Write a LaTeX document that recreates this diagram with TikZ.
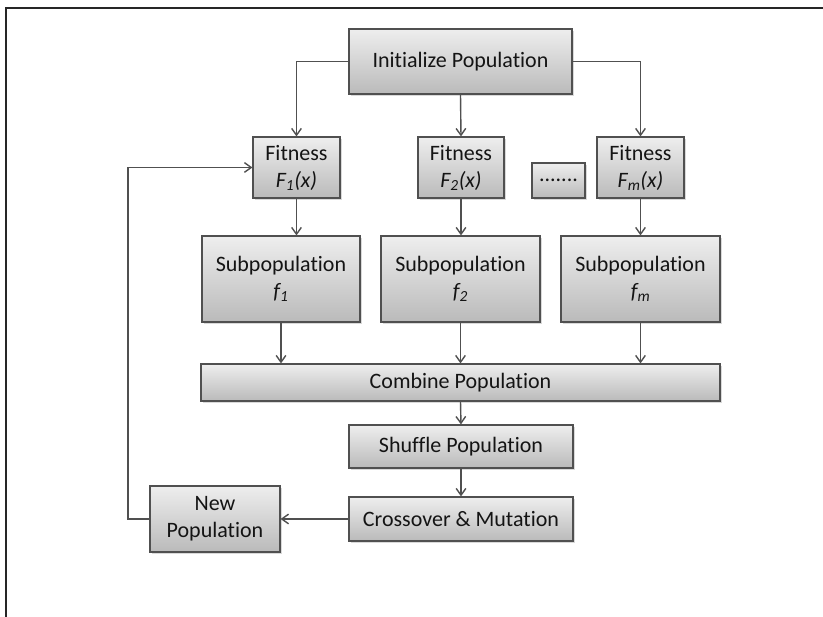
\documentclass[tikz,border=0pt]{standalone}
\usepackage{fontspec}
\setmainfont{Carlito}[Ligatures=NoCommon]
\usepackage{xcolor}
\definecolor{edge}{HTML}{505050}
\definecolor{ink}{HTML}{141414}
\definecolor{topg}{HTML}{EEEEEE}
\definecolor{botg}{HTML}{BABABA}
\usepackage{tikz}
\usetikzlibrary{arrows.meta,shadows}
\tikzset{
  >={Straight Barb[length=2.4mm,width=3.4mm]},
  blk/.style={draw=edge,line width=1.1pt,top color=topg,bottom color=botg,text=ink,align=center,inner sep=0pt,
    font=\fontsize{22}{27}\selectfont,drop shadow={opacity=0.3,shadow xshift=1.5pt,shadow yshift=-2pt}},
  arr/.style={->,draw=edge,line width=1.4pt},
  frm/.style={draw=black!85,line width=2.6pt},
}

\begin{document}
\begin{tikzpicture}[x=1pt,y=1pt]
\useasboundingbox (0,0) rectangle (823,617);
\draw[frm] (823,609) -- (6,609) -- (6,0);
% blocks
\node[blk,minimum width=223pt,minimum height=65pt] (init) at (460.5,555.5) {Initialize Population};
\node[blk,minimum width=87pt,minimum height=61pt] (fit1) at (296.5,449.5) {Fitness\\\textit{F\textsubscript{1}(x)}};
\node[blk,minimum width=86pt,minimum height=61pt] (fit2) at (461,449.5) {Fitness\\\textit{F\textsubscript{2}(x)}};
\node[blk,minimum width=53pt,minimum height=35pt] (dots) at (558.5,436.5) {.......};
\node[blk,minimum width=87pt,minimum height=61pt] (fitm) at (640.5,449.5) {Fitness\\\textit{F\textsubscript{m}(x)}};
\node[blk,minimum width=158pt,minimum height=86pt] (sub1) at (281,338) {Subpopulation\\\textit{f\textsubscript{1}}};
\node[blk,minimum width=159pt,minimum height=86pt] (sub2) at (460.5,338) {Subpopulation\\\textit{f\textsubscript{2}}};
\node[blk,minimum width=159pt,minimum height=86pt] (subm) at (640.5,338) {Subpopulation\\\textit{f\textsubscript{m}}};
\node[blk,minimum width=519pt,minimum height=37pt] (comb) at (460.5,234.5) {Combine Population};
\node[blk,minimum width=224pt,minimum height=43pt] (shuf) at (461,170.5) {Shuffle Population};
\node[blk,minimum width=224pt,minimum height=44pt] (cross) at (461,98) {Crossover \& Mutation};
\node[blk,minimum width=130pt,minimum height=66pt] (newp) at (215,98) {New\\Population};
\coordinate (loop) at (128,449.5);
% connectors
\draw[arr] (init.west) -| (fit1.north);
\draw[arr] (init.south) -- (fit2.north);
\draw[arr] (init.east) -| (fitm.north);
\draw[arr] (fit1.south) -- (fit1.south |- sub1.north);
\draw[arr] (fit2.south) -- (fit2.south |- sub2.north);
\draw[arr] (fitm.south) -- (fitm.south |- subm.north);
\draw[arr] (sub1.south) -- (sub1.south |- comb.north);
\draw[arr] (sub2.south) -- (sub2.south |- comb.north);
\draw[arr] (subm.south) -- (subm.south |- comb.north);
\draw[arr] (comb.south) -- (shuf.north);
\draw[arr] (shuf.south) -- (cross.north);
\draw[arr] (cross.west) -- (newp.east);
\draw[arr] (newp.west) -| (loop) -- (fit1.west);
\end{tikzpicture}
\end{document}
